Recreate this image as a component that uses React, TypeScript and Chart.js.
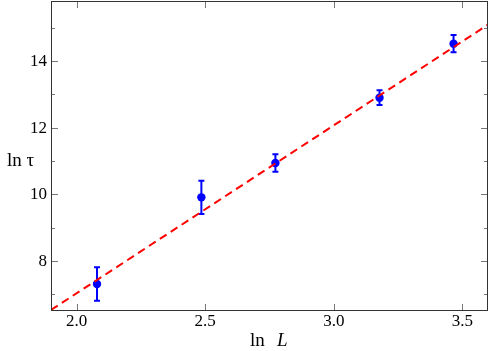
import React, { useEffect, useRef } from "react";
import { Chart, registerables } from "chart.js";

Chart.register(...registerables);

const lnL = [2.079, 2.485, 2.773, 3.178, 3.466];
const lnTau = [7.31, 9.91, 10.94, 12.9, 14.52];
const tauErr = [0.5, 0.5, 0.26, 0.22, 0.26];
const fitX = [1.9, 3.6];
const fitY = [6.53, 15.09];
const xTicks = [2.0, 2.5, 3.0, 3.5];
const xTickLabels = ["2.0", "2.5", "3.0", "3.5"];
const yMajor = [8, 10, 12, 14];
const yTickLabels = ["8", "10", "12", "14"];
const yMinor = [7, 9, 11, 13, 15];

const SERIF = "'Liberation Serif', 'Times New Roman', serif";
Chart.defaults.font.family = SERIF;

const framePlugin = {
  id: "frame",
  beforeDatasetsDraw(chart: any) {
    const ctx = chart.ctx;
    const xs = chart.scales.x;
    const ys = chart.scales.y;
    ctx.save();
    ctx.beginPath();
    ctx.rect(chart.chartArea.left, chart.chartArea.top, chart.chartArea.right - chart.chartArea.left, chart.chartArea.bottom - chart.chartArea.top);
    ctx.clip();
    ctx.strokeStyle = "#0000ff";
    ctx.lineWidth = 2;
    for (let i = 0; i < lnL.length; i++) {
      const px = xs.getPixelForValue(lnL[i]);
      const top = ys.getPixelForValue(lnTau[i] + tauErr[i]);
      const bot = ys.getPixelForValue(lnTau[i] - tauErr[i]);
      ctx.beginPath();
      ctx.moveTo(px, top);
      ctx.lineTo(px, bot);
      ctx.moveTo(px - 3, top);
      ctx.lineTo(px + 3, top);
      ctx.moveTo(px - 3, bot);
      ctx.lineTo(px + 3, bot);
      ctx.stroke();
    }
    ctx.restore();
  },
  afterDraw(chart: any) {
    const ctx = chart.ctx;
    const { left, right, top, bottom } = chart.chartArea;
    const xs = chart.scales.x;
    const ys = chart.scales.y;
    ctx.save();
    ctx.strokeStyle = "#777";
    ctx.lineWidth = 1;
    ctx.beginPath();
    for (const v of xTicks) {
      const px = Math.round(xs.getPixelForValue(v)) + 0.5;
      ctx.moveTo(px, bottom);
      ctx.lineTo(px, bottom - 7);
      ctx.moveTo(px, top);
      ctx.lineTo(px, top + 7);
    }
    for (const v of yMajor) {
      const py = Math.round(ys.getPixelForValue(v)) + 0.5;
      ctx.moveTo(left, py);
      ctx.lineTo(left + 7, py);
      ctx.moveTo(right, py);
      ctx.lineTo(right - 7, py);
    }
    for (const v of yMinor) {
      const py = Math.round(ys.getPixelForValue(v)) + 0.5;
      ctx.moveTo(left, py);
      ctx.lineTo(left + 4, py);
      ctx.moveTo(right, py);
      ctx.lineTo(right - 4, py);
    }
    ctx.stroke();
    ctx.strokeStyle = "#333";
    ctx.lineWidth = 1;
    ctx.strokeRect(Math.round(left) + 0.5, Math.round(top) + 0.5, Math.round(right - left) - 1, Math.round(bottom - top) - 1);

    ctx.fillStyle = "#000";
    ctx.font = `17px ${SERIF}`;
    ctx.textBaseline = "middle";
    ctx.textAlign = "center";
    xTicks.forEach((v, i) => {
      ctx.fillText(xTickLabels[i], xs.getPixelForValue(v), bottom + 11);
    });
    ctx.textAlign = "right";
    yMajor.forEach((v, i) => {
      ctx.fillText(yTickLabels[i], left - 4, ys.getPixelForValue(v) + 0.5);
    });

    ctx.textBaseline = "alphabetic";
    ctx.textAlign = "left";
    ctx.font = `19px ${SERIF}`;
    ctx.fillText("ln \u03c4", 7, 166);
    ctx.fillText("ln", 250, 346);
    ctx.font = `italic 19px ${SERIF}`;
    ctx.fillText("L", 277, 346);
    ctx.restore();
  },
};

export default function App() {
  const ref = useRef<HTMLCanvasElement>(null);
  useEffect(() => {
    if (!ref.current) return;
    const chart = new Chart(ref.current, {
      type: "scatter",
      data: {
        datasets: [
          {
            type: "line",
            data: fitX.map((x, i) => ({ x, y: fitY[i] })),
            borderColor: "#ff0000",
            borderWidth: 2,
            borderDash: [8, 5],
            pointRadius: 0,
            fill: false,
          } as any,
          {
            data: lnL.map((x, i) => ({ x, y: lnTau[i] })),
            backgroundColor: "#0000ff",
            borderColor: "#0000ff",
            pointRadius: 4.2,
            borderWidth: 0,
          },
        ],
      },
      options: {
        animation: false,
        responsive: false,
        maintainAspectRatio: false,
        layout: { autoPadding: false, padding: { top: 1, right: 3, left: 0, bottom: 0 } },
        plugins: { legend: { display: false }, tooltip: { enabled: false } },
        scales: {
          x: {
            type: "linear",
            min: 1.9,
            max: 3.6,
            grid: { display: false },
            border: { display: false },
            ticks: { display: false, stepSize: 0.5, includeBounds: false },
            afterFit: (s: any) => {
              s.height = 40;
              s.paddingLeft = 0;
              s.paddingRight = 0;
            },
          },
          y: {
            type: "linear",
            min: 6.5,
            max: 15.8,
            grid: { display: false },
            border: { display: false },
            ticks: { display: false, stepSize: 2, includeBounds: false },
            afterFit: (s: any) => {
              s.width = 51;
              s.paddingTop = 0;
              s.paddingBottom = 0;
            },
          },
        },
      },
      plugins: [framePlugin],
    });
    return () => chart.destroy();
  }, []);
  return (
    <div style={{ position: "fixed", left: 0, top: 0, width: 491, height: 351, background: "#fff" }}>
      <canvas ref={ref} width={491} height={351} style={{ width: 491, height: 351 }} />
    </div>
  );
}
